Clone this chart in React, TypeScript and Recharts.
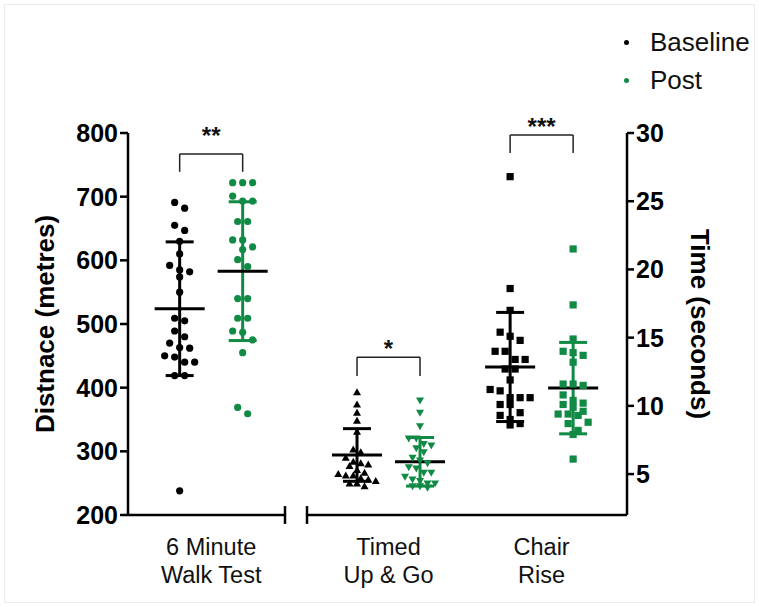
import React from 'react';
import { ComposedChart, Scatter, XAxis, YAxis, ReferenceLine, Label } from 'recharts';

const GREEN = '#118a45';
const FONT = '"Liberation Sans", Arial, Helvetica, sans-serif';

// categories and where each pair of columns sits on the x axis (column units)
const tests = ['6 Minute\nWalk Test', 'Timed\nUp & Go', 'Chair\nRise'];
const groupCenters = [1.32, 4.135, 6.565];
const seriesNames = ['Baseline', 'Post'];

// 6 Minute Walk Test (metres, left axis)
const walkBaseline = [691, 682, 655, 647, 630, 610, 592, 585, 582, 574, 550, 509, 505, 489, 480, 470, 463, 462, 450, 448, 440, 440, 419, 419, 238];
const walkPost = [722, 722, 722, 701, 693, 693, 661, 661, 632, 632, 621, 617, 601, 590, 540, 540, 509, 509, 489, 487, 475, 455, 369, 359];

// Timed Up & Go (seconds, right axis)
const tugBaseline = [11.0, 10.1, 9.5, 8.9, 8.1, 6.8, 6.6, 6.2, 5.9, 5.8, 5.7, 5.6, 5.3, 5.1, 5.0, 4.9, 4.9, 4.7, 4.6, 4.5, 4.3, 4.3, 4.1];
const tugPost = [10.4, 9.5, 8.5, 7.6, 7.6, 7.2, 7.1, 6.9, 6.6, 6.2, 6.0, 5.8, 5.5, 5.4, 5.1, 5.1, 4.8, 4.6, 4.5, 4.3, 4.3, 4.1, 4.1, 4.0];

// Chair Rise (seconds, right axis)
const chairBaseline = [26.8, 18.6, 17.0, 15.4, 15.1, 14.8, 14.0, 14.0, 13.4, 13.4, 12.7, 12.7, 11.9, 11.2, 11.1, 10.6, 10.6, 10.6, 10.1, 10.1, 9.5, 9.3, 9.0, 8.7, 8.6];
const chairPost = [21.5, 17.4, 14.9, 14.0, 13.9, 13.7, 13.2, 11.6, 11.6, 11.5, 10.8, 10.4, 10.2, 10.1, 9.9, 9.6, 9.4, 9.4, 9.3, 8.8, 8.7, 8.2, 7.9, 6.1];

// mean and SD per test, as drawn
const meanBaseline = [524, 6.4, 12.85];
const sdBaseline = [105, 1.93, 4.0];
const meanPost = [583, 5.9, 11.3];
const sdPost = [109, 1.78, 3.35];

// significance brackets
const sigLabels = ['**', '*', '***'];
const bracketTop = [767, 13.56, 29.85];
const bracketLow = [739, 12.19, 28.53];

const leftTicks = [200, 300, 400, 500, 600, 700, 800];
const rightTicks = [5, 10, 15, 20, 25, 30];
const LEFT_DOMAIN: [number, number] = [200, 800];
const RIGHT_DOMAIN: [number, number] = [2, 30];
const X_DOMAIN: [number, number] = [0, 7.92];
const BREAK = [2.492, 2.841];

const W = 759;
const H = 607;
const MARGIN = { top: 133, right: 0, bottom: 0, left: 0 };
const LEFT_W = 128;
const RIGHT_W = 132;
const X_H = 92;
const PLOT_H = H - MARGIN.top - X_H;

// GraphPad-like scatter: values close together share a row, centred on the column
function swarm(values: number[], x: number, domain: [number, number], binPx: number, gapPx: number) {
  const pxPer = PLOT_H / (domain[1] - domain[0]);
  const sorted = [...values].sort((a, b) => b - a);
  const rows: number[][] = [];
  let cur: number[] = [];
  for (const v of sorted) {
    if (cur.length && (cur[0] - v) * pxPer >= binPx) {
      rows.push(cur);
      cur = [];
    }
    cur.push(v);
  }
  if (cur.length) rows.push(cur);
  const out: { x: number; y: number; dx: number }[] = [];
  rows.forEach((r) => r.forEach((v, i) => out.push({ x, y: v, dx: (i - (r.length - 1) / 2) * gapPx })));
  return out;
}

const makeShape = (kind: string, color: string) => (props: any) => {
  const { cx, cy, payload } = props;
  if (cx == null || cy == null) return <g />;
  const x = cx + (payload?.dx || 0);
  if (kind === 'circle') return <circle cx={x} cy={cy} r={3.6} fill={color} />;
  if (kind === 'square') return <rect x={x - 3.6} y={cy - 3.6} width={7.2} height={7.2} fill={color} />;
  if (kind === 'up') return <path d={`M${x},${cy - 4} L${x + 4},${cy + 3} L${x - 4},${cy + 3} Z`} fill={color} />;
  return <path d={`M${x},${cy + 4} L${x + 4},${cy - 3} L${x - 4},${cy - 3} Z`} fill={color} />;
};

const bx = (i: number) => groupCenters[i] - 0.5;
const px = (i: number) => groupCenters[i] + 0.5;

const walkB = swarm(walkBaseline, bx(0), LEFT_DOMAIN, 9, 10);
const walkP = swarm(walkPost, px(0), LEFT_DOMAIN, 9, 10);
const tugB = swarm(tugBaseline, bx(1), RIGHT_DOMAIN, 8, 7.5);
const tugP = swarm(tugPost, px(1), RIGHT_DOMAIN, 8, 7.5);
const chairB = swarm(chairBaseline, bx(2), RIGHT_DOMAIN, 9, 10);
const chairP = swarm(chairPost, px(2), RIGHT_DOMAIN, 9, 10);

const axisId = (i: number) => (i === 0 ? 'left' : 'right');

function CategoryTick(props: any) {
  const { x, y, index } = props;
  const lines = tests[index].split('\n');
  return (
    <text x={x} y={y} textAnchor="middle" fontSize={23.5} fontFamily={FONT} fill="#111">
      {lines.map((l, i) => (
        <tspan key={i} x={x} dy={i === 0 ? 38 : 28}>
          {l}
        </tspan>
      ))}
    </text>
  );
}

function AxisTitle(props: any) {
  const { viewBox, value, side } = props;
  const cy = viewBox.y + viewBox.height / 2;
  const cx = side === 'left' ? viewBox.x + 45 : viewBox.x + 73;
  return (
    <text
      x={cx}
      y={cy}
      transform={`rotate(${side === 'left' ? -90 : 90}, ${cx}, ${cy})`}
      textAnchor="middle"
      dominantBaseline="central"
      fontSize={26}
      fontWeight={700}
      fontFamily={FONT}
      fill="#000"
    >
      {value}
    </text>
  );
}

function StarLabel(props: any) {
  const { viewBox, value, lift } = props;
  const x = viewBox.x + (viewBox.width || 0) / 2;
  return (
    <text x={x} y={viewBox.y - lift} textAnchor="middle" fontSize={24} fontWeight={700} fontFamily={FONT} fill="#111">
      {value}
    </text>
  );
}

const starLift = [10, 0, 0];

function summaryLines(i: number, xPos: number, mean: number, sd: number, color: string) {
  const y = axisId(i);
  const seg = (x1: number, y1: number, x2: number, y2: number, c: string, k: string) => (
    <ReferenceLine
      key={k}
      yAxisId={y}
      ifOverflow="visible"
      stroke={c}
      strokeWidth={3}
      segment={[{ x: x1, y: y1 }, { x: x2, y: y2 }]}
    />
  );
  return [
    seg(xPos, mean - sd, xPos, mean + sd, color, `v${i}${xPos}`),
    seg(xPos - 0.222, mean + sd, xPos + 0.222, mean + sd, color, `t${i}${xPos}`),
    seg(xPos - 0.222, mean - sd, xPos + 0.222, mean - sd, color, `b${i}${xPos}`),
    seg(xPos - 0.397, mean, xPos + 0.397, mean, '#000', `m${i}${xPos}`),
  ];
}

export default function App() {
  const axisLineStyle = { stroke: '#000', strokeWidth: 2.5 };
  const tickStyle = { fill: '#000', fontSize: 25, fontWeight: 700, fontFamily: FONT };
  return (
    <div style={{ position: 'absolute', left: 0, top: 0, width: W, height: H, background: '#fff' }}>
      <div
        style={{
          position: 'absolute',
          left: 4,
          top: 4,
          width: W - 10,
          height: H - 10,
          border: '1px solid #ececec',
        }}
      />
      <ComposedChart width={W} height={H} margin={MARGIN} style={{ position: 'absolute', left: 0, top: 0 }}>
        <XAxis
          dataKey="x"
          type="number"
          domain={X_DOMAIN}
          allowDataOverflow
          ticks={groupCenters}
          interval={0}
          tick={<CategoryTick />}
          tickLine={false}
          axisLine={false}
          tickSize={0}
          height={X_H}
        />
        <YAxis
          yAxisId="left"
          type="number"
          domain={LEFT_DOMAIN}
          allowDataOverflow
          ticks={leftTicks}
          interval={0}
          width={LEFT_W}
          tickSize={8}
          axisLine={axisLineStyle}
          tickLine={axisLineStyle}
          tick={tickStyle}
          label={<AxisTitle value="Distnace (metres)" side="left" />}
        />
        <YAxis
          yAxisId="right"
          orientation="right"
          type="number"
          domain={RIGHT_DOMAIN}
          allowDataOverflow
          ticks={rightTicks}
          interval={0}
          width={RIGHT_W}
          tickSize={7}
          axisLine={axisLineStyle}
          tickLine={axisLineStyle}
          tick={tickStyle}
          label={<AxisTitle value="Time (seconds)" side="right" />}
        />

        <Scatter name={seriesNames[0]} yAxisId="left" data={walkB} dataKey="y" shape={makeShape('circle', '#000')} isAnimationActive={false} />
        <Scatter name={seriesNames[1]} yAxisId="left" data={walkP} dataKey="y" shape={makeShape('circle', GREEN)} isAnimationActive={false} />
        <Scatter name={seriesNames[0]} yAxisId="right" data={tugB} dataKey="y" shape={makeShape('up', '#000')} isAnimationActive={false} />
        <Scatter name={seriesNames[1]} yAxisId="right" data={tugP} dataKey="y" shape={makeShape('down', GREEN)} isAnimationActive={false} />
        <Scatter name={seriesNames[0]} yAxisId="right" data={chairB} dataKey="y" shape={makeShape('square', '#000')} isAnimationActive={false} />
        <Scatter name={seriesNames[1]} yAxisId="right" data={chairP} dataKey="y" shape={makeShape('square', GREEN)} isAnimationActive={false} />

        {groupCenters.map((_, i) => summaryLines(i, bx(i), meanBaseline[i], sdBaseline[i], '#000'))}
        {groupCenters.map((_, i) => summaryLines(i, px(i), meanPost[i], sdPost[i], GREEN))}

        {groupCenters.map((_, i) => [
          <ReferenceLine key={`bl${i}`} yAxisId={axisId(i)} ifOverflow="visible" stroke="#222" strokeWidth={1.5}
            segment={[{ x: bx(i), y: bracketLow[i] }, { x: bx(i), y: bracketTop[i] }]} />,
          <ReferenceLine key={`br${i}`} yAxisId={axisId(i)} ifOverflow="visible" stroke="#222" strokeWidth={1.5}
            segment={[{ x: px(i), y: bracketLow[i] }, { x: px(i), y: bracketTop[i] }]} />,
          <ReferenceLine key={`bt${i}`} yAxisId={axisId(i)} ifOverflow="visible" stroke="#222" strokeWidth={1.5}
            segment={[{ x: bx(i), y: bracketTop[i] }, { x: px(i), y: bracketTop[i] }]}>
            <Label content={<StarLabel value={sigLabels[i]} lift={starLift[i]} />} />
          </ReferenceLine>,
        ])}

        {/* broken x axis */}
        <ReferenceLine yAxisId="left" ifOverflow="visible" stroke="#000" strokeWidth={2.5}
          segment={[{ x: X_DOMAIN[0], y: LEFT_DOMAIN[0] }, { x: BREAK[0], y: LEFT_DOMAIN[0] }]} />
        <ReferenceLine yAxisId="left" ifOverflow="visible" stroke="#000" strokeWidth={2.5}
          segment={[{ x: BREAK[1], y: LEFT_DOMAIN[0] }, { x: X_DOMAIN[1], y: LEFT_DOMAIN[0] }]} />
        <ReferenceLine yAxisId="left" ifOverflow="visible" stroke="#000" strokeWidth={2.5}
          segment={[{ x: BREAK[0], y: 186 }, { x: BREAK[0], y: 214 }]} />
        <ReferenceLine yAxisId="left" ifOverflow="visible" stroke="#000" strokeWidth={2.5}
          segment={[{ x: BREAK[1], y: 186 }, { x: BREAK[1], y: 214 }]} />
      </ComposedChart>

      {/* legend */}
      {seriesNames.map((name, i) => (
        <div
          key={name}
          style={{
            position: 'absolute',
            left: 624,
            top: 28 + i * 38,
            height: 28,
            display: 'flex',
            alignItems: 'center',
            fontFamily: FONT,
            fontSize: 26,
            color: '#111',
          }}
        >
          <span
            style={{
              display: 'inline-block',
              width: 5,
              height: 5,
              borderRadius: '50%',
              background: i === 0 ? '#000' : GREEN,
              marginRight: 21,
            }}
          />
          {name}
        </div>
      ))}
    </div>
  );
}
